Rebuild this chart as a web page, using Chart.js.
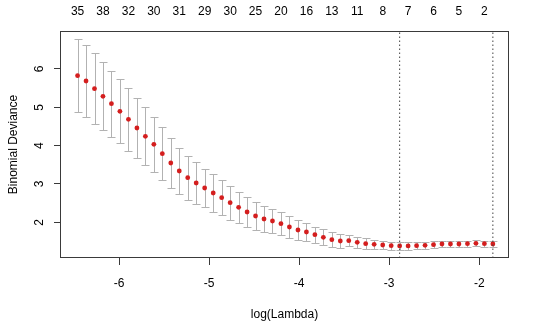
<!DOCTYPE html>
<html>
<head>
<meta charset="utf-8">
<script src="https://cdn.jsdelivr.net/npm/chart.js@4"></script>
<style>
  html, body { margin: 0; padding: 0; background: #ffffff; }
  #wrap { width: 540px; height: 334px; }
</style>
</head>
<body>
<div id="wrap"><canvas id="c" width="540" height="334"></canvas></div>
<script>
// log(lambda) of each fitted lambda (left = smallest lambda)
const logLambda = [-6.460, -6.366, -6.272, -6.178, -6.084, -5.990, -5.895, -5.801, -5.707, -5.613,
                   -5.519, -5.425, -5.331, -5.237, -5.143, -5.049, -4.954, -4.860, -4.766, -4.672,
                   -4.578, -4.484, -4.390, -4.296, -4.202, -4.108, -4.013, -3.919, -3.825, -3.731,
                   -3.637, -3.543, -3.449, -3.355, -3.261, -3.167, -3.072, -2.978, -2.884, -2.790,
                   -2.696, -2.602, -2.508, -2.414, -2.320, -2.226, -2.131, -2.037, -1.943, -1.849];
// mean cross-validated binomial deviance
const cvMean = [5.825, 5.687, 5.486, 5.288, 5.095, 4.896, 4.688, 4.461, 4.244, 4.035,
                3.790, 3.548, 3.339, 3.164, 3.026, 2.895, 2.765, 2.643, 2.512, 2.392,
                2.269, 2.165, 2.087, 2.034, 1.964, 1.878, 1.800, 1.747, 1.677, 1.609,
                1.547, 1.513, 1.521, 1.479, 1.443, 1.426, 1.408, 1.390, 1.385, 1.385,
                1.390, 1.400, 1.417, 1.434, 1.434, 1.434, 1.443, 1.452, 1.443, 1.434];
// upper error bar (mean + 1 sd)
const cvUpper = [6.775, 6.626, 6.410, 6.175, 5.956, 5.731, 5.512, 5.251, 5.001, 4.756,
                 4.480, 4.192, 3.947, 3.738, 3.565, 3.400, 3.253, 3.104, 2.955, 2.800,
                 2.668, 2.530, 2.418, 2.355, 2.261, 2.157, 2.053, 1.974, 1.886, 1.818,
                 1.740, 1.687, 1.661, 1.625, 1.583, 1.547, 1.521, 1.494, 1.486, 1.480,
                 1.480, 1.485, 1.500, 1.510, 1.510, 1.510, 1.520, 1.530, 1.520, 1.510];
// lower error bar (mean - 1 sd)
const cvLower = [4.875, 4.748, 4.562, 4.401, 4.234, 4.061, 3.864, 3.671, 3.487, 3.314,
                 3.100, 2.904, 2.731, 2.590, 2.487, 2.390, 2.277, 2.182, 2.069, 1.984,
                 1.870, 1.800, 1.756, 1.713, 1.667, 1.599, 1.547, 1.520, 1.468, 1.400,
                 1.354, 1.339, 1.381, 1.333, 1.303, 1.305, 1.295, 1.286, 1.284, 1.290,
                 1.300, 1.315, 1.334, 1.358, 1.358, 1.358, 1.366, 1.374, 1.366, 1.358];
// number of non-zero coefficients (top axis), shown at every third lambda
const nzeroAt = [0, 3, 6, 9, 12, 15, 18, 21, 24, 27, 30, 33, 36, 39, 42, 45, 48];
const nzeroLabels = ['35', '38', '32', '30', '31', '29', '30', '25', '20', '16', '13', '11', '8', '7', '6', '5', '2'];
const xTicks = [-6, -5, -4, -3, -2];
const yTicks = [2, 3, 4, 5, 6];
const lambdaMinLog = -2.884;
const lambda1seLog = -1.849;

const X_MIN = -6.644, X_MAX = -1.681, Y_MIN = 1.069, Y_MAX = 6.991;
const FONT = { family: "'Liberation Sans', Arial, Helvetica, sans-serif", size: 12 };

const errorBars = {
  id: 'errorBars',
  beforeDatasetsDraw(chart) {
    const { ctx, scales: { x, y } } = chart;
    ctx.save();
    ctx.strokeStyle = '#B2B2B2';
    ctx.lineWidth = 1;
    logLambda.forEach((lv, i) => {
      const px = Math.round(x.getPixelForValue(lv)) + 0.5;
      const pu = Math.round(y.getPixelForValue(cvUpper[i])) + 0.5;
      const pl = Math.round(y.getPixelForValue(cvLower[i])) + 0.5;
      ctx.beginPath();
      ctx.moveTo(px, pu); ctx.lineTo(px, pl);
      ctx.moveTo(px - 4, pu); ctx.lineTo(px + 4, pu);
      ctx.moveTo(px - 4, pl); ctx.lineTo(px + 4, pl);
      ctx.stroke();
    });
    ctx.restore();
  }
};

const frameBox = {
  id: 'frameBox',
  afterDraw(chart) {
    const { ctx, chartArea: a } = chart;
    ctx.save();
    ctx.strokeStyle = '#3a3a3a';
    ctx.lineWidth = 1;
    ctx.strokeRect(Math.round(a.left) - 0.5, Math.round(a.top) + 0.5,
                   Math.round(a.right - a.left) + 1, Math.round(a.bottom - a.top) - 1);
    ctx.restore();
  }
};

new Chart(document.getElementById('c'), {
  data: {
    datasets: [
      {
        type: 'scatter',
        data: logLambda.map((v, i) => ({ x: v, y: cvMean[i] })),
        pointRadius: 2.4,
        pointBackgroundColor: '#D41E1E',
        pointBorderWidth: 0,
        order: 1
      },
      {
        type: 'line',
        data: [{ x: lambdaMinLog, y: Y_MIN }, { x: lambdaMinLog, y: Y_MAX }],
        borderColor: '#444444', borderWidth: 1, borderDash: [1.5, 2.5],
        pointRadius: 0, order: 0
      },
      {
        type: 'line',
        data: [{ x: lambda1seLog, y: Y_MIN }, { x: lambda1seLog, y: Y_MAX }],
        borderColor: '#444444', borderWidth: 1, borderDash: [1.5, 2.5],
        pointRadius: 0, order: 0
      }
    ]
  },
  options: {
    responsive: false,
    animation: false,
    devicePixelRatio: 1,
    layout: { padding: { left: 0, right: 32, top: 0, bottom: 0 } },
    plugins: { legend: { display: false }, tooltip: { enabled: false } },
    scales: {
      x: {
        type: 'linear', position: 'bottom', min: X_MIN, max: X_MAX,
        afterBuildTicks: s => { s.ticks = xTicks.map(v => ({ value: v })); },
        afterFit: s => { s.height = 76; },
        ticks: { font: FONT, color: '#000', padding: 11, maxRotation: 0 },
        grid: { drawOnChartArea: false, drawTicks: true, tickLength: 7, color: '#3a3a3a' },
        border: { display: false },
        title: { display: true, text: 'log(Lambda)', font: FONT, color: '#000', padding: { top: 0, bottom: 12 } }
      },
      x2: {
        type: 'linear', position: 'top', min: X_MIN, max: X_MAX,
        afterBuildTicks: s => { s.ticks = nzeroAt.map(i => ({ value: logLambda[i] })); },
        afterFit: s => { s.height = 31; },
        ticks: { font: FONT, color: '#000', padding: 12, autoSkip: false, maxRotation: 0,
                 callback: (v, idx) => nzeroLabels[idx] },
        grid: { display: false, drawTicks: false },
        border: { display: false }
      },
      y: {
        type: 'linear', position: 'left', min: Y_MIN, max: Y_MAX,
        afterBuildTicks: s => { s.ticks = yTicks.map(v => ({ value: v })); },
        afterFit: s => { s.width = 61; },
        ticks: { font: FONT, color: '#000', padding: 11, minRotation: 90, maxRotation: 90, crossAlign: 'center' },
        grid: { drawOnChartArea: false, drawTicks: true, tickLength: 7, color: '#3a3a3a' },
        border: { display: false },
        title: { display: true, text: 'Binomial Deviance', font: FONT, color: '#000', padding: { top: 6, bottom: 0 } }
      }
    }
  },
  plugins: [errorBars, frameBox]
});
</script>
</body>
</html>
